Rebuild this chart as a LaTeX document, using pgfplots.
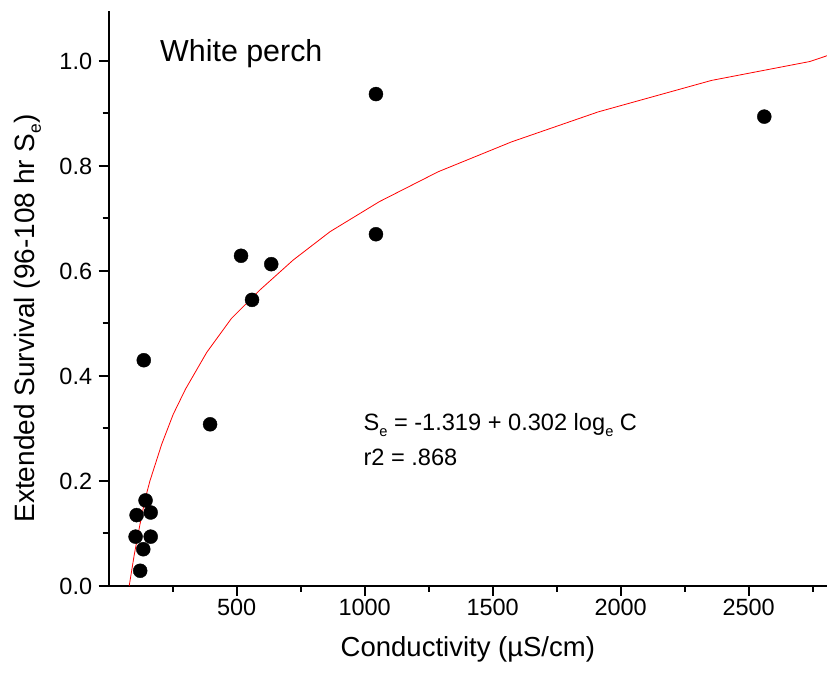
\documentclass[border=0pt]{standalone}
\usepackage{fontspec}
\setmainfont{Liberation Sans}
\usepackage{graphicx}
\usepackage{pgfplots}
\pgfplotsset{compat=1.18}
\newcommand{\sube}{\raisebox{-0.45ex}{\scalebox{0.62}{e}}}
\begin{document}
\begin{tikzpicture}
\begin{axis}[
  name=ax,
  scale only axis,
  width=718.3pt, height=575.3pt,
  xmin=0, xmax=2806, ymin=0, ymax=1.0958,
  axis x line*=bottom, axis y line*=left,
  axis line style={line width=2.2pt},
  tick align=outside,
  major tick length=10pt, minor tick length=6pt,
  tick style={black, line width=2pt},
  xtick={500,1000,1500,2000,2500},
  minor xtick={250,750,1250,1750,2250,2750},
  ytick={0,0.2,0.4,0.6,0.8,1.0},
  minor ytick={0.1,0.3,0.5,0.7,0.9},
  /pgf/number format/assume math mode=true,
  xticklabel style={font=\fontsize{23.5}{27}\selectfont, /pgf/number format/1000 sep={}},
  yticklabel style={font=\fontsize{23.5}{27}\selectfont, xshift=-3pt, /pgf/number format/.cd, fixed, fixed zerofill, precision=1},
  xlabel={Conductivity (µS/cm)},
  ylabel={Extended Survival (96-108 hr S\sube)},
  xlabel style={font=\fontsize{27.5}{32}\selectfont, at={(axis description cs:0.5,-0.1229)}, anchor=base},
  ylabel style={font=\fontsize{28}{32}\selectfont, at={(axis description cs:-0.1036,0.465)}, anchor=base, rotate=0},
  clip=false,
]
\addplot[red, line width=0.8pt] coordinates {
(80,0.0) (100,0.06) (122,0.117) (142,0.165) (161,0.200) (207,0.270) (252,0.327)
(300,0.375) (383,0.445) (480,0.510) (591,0.564) (721,0.621) (865,0.675)
(1057,0.732) (1287,0.789) (1574,0.846) (1912,0.903) (2355,0.963) (2739,0.999) (2806,1.010)
};
\addplot[only marks, mark=*, mark size=7pt, black] coordinates {
(137,0.430) (396,0.308) (144,0.163) (109,0.135) (164,0.140) (105,0.094)
(164,0.094) (135,0.070) (123,0.029) (1044,0.937) (1044,0.670) (2561,0.894)
(517,0.629) (560,0.545) (635,0.613)
};
\node[anchor=base west, font=\fontsize{30.4}{34}\selectfont] at (axis description cs:0.0668,0.9113) {White perch};
\node[anchor=base west, font=\fontsize{23.6}{27}\selectfont] at (axis description cs:0.3499,0.270) {S\sube{} = -1.319 + 0.302 log\sube{} C};
\node[anchor=base west, font=\fontsize{23.6}{27}\selectfont] at (axis description cs:0.3499,0.2103) {r2 = .868};
\end{axis}
\pgfresetboundingbox
\path[use as bounding box] ([shift={(-108.7pt,-93pt)}]ax.south west) rectangle ([shift={(0pt,10.7pt)}]ax.north east);
\end{tikzpicture}
\end{document}
